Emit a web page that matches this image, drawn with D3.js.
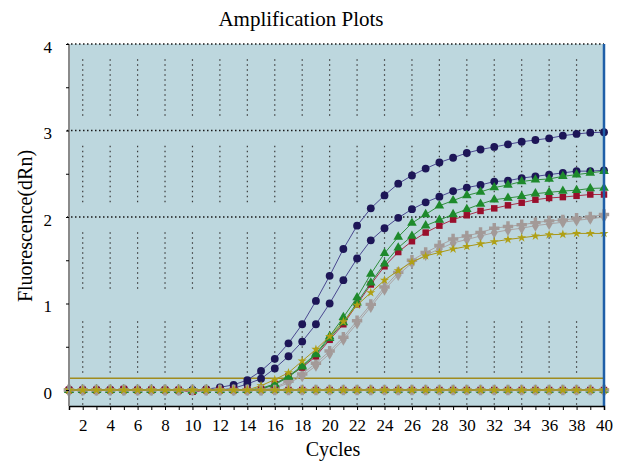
<!DOCTYPE html>
<html>
<head>
<meta charset="utf-8">
<script src="https://cdn.jsdelivr.net/npm/d3@7"></script>
<style>
  body { margin: 0; background: #fff; }
  svg text { font-family: "Liberation Serif", "DejaVu Serif", "Times New Roman", Times, serif !important; fill: #000; }
</style>
</head>
<body>
<div id="chart"></div>
<script>
// cycles 1..40
var cycles = d3.range(1, 41);

// amplification curves (dRn)
var navyHigh = [0, 0, 0, 0, 0.01, 0, 0, 0, -0.01, 0, 0.01, 0.03, 0.06, 0.115, 0.22, 0.36, 0.54, 0.76, 1.03, 1.32,
  1.63, 1.90, 2.10, 2.25, 2.385, 2.48, 2.56, 2.63, 2.685, 2.74, 2.78, 2.81, 2.84, 2.87, 2.89, 2.91, 2.94, 2.96, 2.975, 2.98];
var navyLow = [0, 0, 0, 0, 0, 0, 0, 0, 0, 0, 0, 0, 0.02, 0.07, 0.13, 0.25, 0.39, 0.56, 0.76, 1.00,
  1.27, 1.52, 1.73, 1.87, 1.99, 2.09, 2.17, 2.235, 2.30, 2.34, 2.37, 2.41, 2.42, 2.45, 2.47, 2.49, 2.51, 2.53, 2.53, 2.54];
var greenHigh = [0, 0, 0, 0, 0, 0, 0, 0, 0, 0, 0, 0, 0, 0, 0.02, 0.07, 0.16, 0.28, 0.42, 0.62,
  0.84, 1.07, 1.34, 1.58, 1.77, 1.93, 2.03, 2.13, 2.19, 2.25, 2.29, 2.34, 2.37, 2.41, 2.43, 2.44, 2.47, 2.49, 2.51, 2.53];
var greenLow = [0, 0, 0, 0, 0, 0, 0, 0, 0, 0, 0, 0, 0, 0, 0.01, 0.06, 0.15, 0.27, 0.41, 0.60,
  0.78, 1.01, 1.24, 1.46, 1.645, 1.78, 1.90, 1.965, 2.03, 2.09, 2.15, 2.20, 2.22, 2.24, 2.27, 2.285, 2.30, 2.31, 2.33, 2.335];
var redCurve = [0, 0, 0, 0, 0.01, 0, 0, 0, 0, -0.02, 0, 0, 0, 0, 0.01, 0.07, 0.16, 0.26, 0.39, 0.58,
  0.76, 0.99, 1.22, 1.43, 1.595, 1.72, 1.82, 1.90, 1.97, 2.02, 2.07, 2.10, 2.135, 2.165, 2.20, 2.22, 2.23, 2.245, 2.26, 2.26];
var grayHigh = [0, 0, 0, 0, 0, 0, 0, 0, 0, 0, 0, 0, 0, 0, 0, 0.03, 0.10, 0.185, 0.31, 0.45,
  0.61, 0.80, 0.99, 1.19, 1.36, 1.50, 1.59, 1.67, 1.745, 1.78, 1.82, 1.87, 1.89, 1.91, 1.935, 1.955, 1.965, 1.985, 2.00, 2.03];
var grayLow = [0, 0, 0, 0, 0, 0, 0, 0, 0, 0, 0, 0, 0, 0, 0, 0.02, 0.08, 0.16, 0.28, 0.42,
  0.58, 0.77, 0.96, 1.16, 1.33, 1.47, 1.56, 1.63, 1.70, 1.74, 1.78, 1.82, 1.85, 1.87, 1.90, 1.92, 1.94, 1.96, 1.98, 2.00];
var yellowCurve = [0, 0, 0, 0, 0, 0, 0, 0, 0, 0, 0, 0, 0, 0, 0.05, 0.12, 0.20, 0.335, 0.47, 0.62,
  0.79, 0.98, 1.125, 1.27, 1.38, 1.48, 1.55, 1.59, 1.63, 1.66, 1.69, 1.715, 1.74, 1.76, 1.78, 1.795, 1.80, 1.81, 1.81, 1.81];

// no-template controls, flat at zero
var ntcRed = [0, 0, 0, 0, 0.01, 0, 0, 0, 0, -0.02, 0, 0, 0, 0, 0, 0, 0, 0, 0, 0,
  0, 0, 0, 0, 0, 0, 0, 0, 0, 0, 0, 0, 0, 0, 0, 0, 0, 0, 0, 0];
var ntcGreen = [0, 0, 0, 0, 0, 0, 0, 0, 0, -0.01, 0, 0, 0, 0, 0, 0, 0, 0, 0, 0,
  0, 0, 0, 0, 0, 0, 0, 0, 0, 0, 0, 0, 0, 0, 0, 0, 0, 0, 0, 0];
var ntcGray = [0, 0, 0, 0, 0, 0, 0, 0, 0, 0, 0, 0, 0, 0, 0, 0, 0, 0, 0, 0,
  0, 0, 0, 0, 0, 0, 0, 0, 0, 0, 0, 0, 0, 0, 0, 0, 0, 0, 0, 0];
var ntcYellow = [0, 0, 0, 0, 0, 0, 0, 0, 0, 0, 0, 0, 0, 0, 0, 0, 0, 0, 0, 0,
  0, 0, 0, 0, 0, 0, 0, 0, 0, 0, 0, 0, 0, 0, 0, 0, 0, 0, 0, 0];

var threshold = 0.135;
var yTickValues = [0, 0.5, 1, 1.5, 2, 2.5, 3, 3.5, 4];
var xLabelTicks = [2, 4, 6, 8, 10, 12, 14, 16, 18, 20, 22, 24, 26, 28, 30, 32, 34, 36, 38, 40];
var gridValues = [2, 3, 4];

var serif = "'Liberation Serif', 'DejaVu Serif', 'Times New Roman', serif";

var svgWidth = 623;
var svgHeight = 461;

var svg = d3.select("#chart")
  .append("svg")
  .attr("width", svgWidth)
  .attr("height", svgHeight)
  .attr("font-family", serif);

var xScale = d3.scaleLinear().domain([1, 40]).range([69, 604]);
var yScale = d3.scaleLinear().domain([0, 4]).range([390, 44]);
var yBottom = yScale(-0.185);

// plot background
svg.append("rect")
  .attr("x", xScale(1))
  .attr("y", yScale(4))
  .attr("width", xScale(40) - xScale(1))
  .attr("height", yBottom - yScale(4))
  .attr("fill", "#bdd7de");

// vertical dotted grid (broken around the value lines)
var gapSegments = [[-0.17, -0.04], [0.2, 0.83], [1.17, 1.83], [2.17, 2.83], [3.17, 3.86]];
xLabelTicks.filter(d => d < 40).forEach(function(c) {
  gapSegments.forEach(function(s) {
    svg.append("line")
      .attr("x1", xScale(c)).attr("x2", xScale(c))
      .attr("y1", yScale(s[0])).attr("y2", yScale(s[1]))
      .attr("stroke", "#3a3a3a")
      .attr("stroke-width", 1.2)
      .attr("stroke-dasharray", "1.5,3.5");
  });
});

// horizontal dotted grid
svg.selectAll(".hgrid")
  .data(gridValues)
  .enter()
  .append("line")
  .attr("class", "hgrid")
  .attr("x1", xScale(1) - 2)
  .attr("x2", xScale(40))
  .attr("y1", d => yScale(d))
  .attr("y2", d => yScale(d))
  .attr("stroke", "#1a1a1a")
  .attr("stroke-width", 1.3)
  .attr("stroke-dasharray", "1.5,2.5");

// threshold
svg.append("line")
  .attr("x1", xScale(1)).attr("x2", xScale(40))
  .attr("y1", yScale(threshold)).attr("y2", yScale(threshold))
  .attr("stroke", "#a08c1e")
  .attr("stroke-width", 1.5);

var series = [
  { values: navyHigh, color: "#1d1657", line: "#4a4890", shape: d3.symbolCircle, size: 48 },
  { values: navyLow, color: "#1d1657", line: "#4a4890", shape: d3.symbolCircle, size: 48 },
  { values: grayHigh, color: "#a39a98", line: "#aaa2a2", shape: d3.symbolCross, size: 60 },
  { values: grayLow, color: "#a39a98", line: "#aaa2a2", shape: d3.symbolDiamond, size: 42 },
  { values: redCurve, color: "#990f2c", line: "#a8304a", shape: d3.symbolSquare, size: 42 },
  { values: greenLow, color: "#1e8a2c", line: "#2f8f3c", shape: d3.symbolTriangle, size: 40 },
  { values: greenHigh, color: "#1e8a2c", line: "#2f8f3c", shape: d3.symbolTriangle, size: 40 },
  { values: yellowCurve, color: "#b0a014", line: "#a8961a", shape: d3.symbolStar, size: 26 },
  { values: ntcRed, color: "#990f2c", line: "#a8304a", shape: d3.symbolSquare, size: 42 },
  { values: ntcGreen, color: "#1e8a2c", line: "#2f8f3c", shape: d3.symbolTriangle, size: 40 },
  { values: ntcGray, color: "#a39a98", line: "#aaa2a2", shape: d3.symbolCross, size: 60 },
  { values: ntcYellow, color: "#b0a014", line: "#a8961a", shape: d3.symbolStar, size: 30 }
];

var line = d3.line()
  .x((d, i) => xScale(cycles[i]))
  .y(d => yScale(d));

series.forEach(function(s) {
  svg.append("path")
    .datum(s.values)
    .attr("d", line)
    .attr("fill", "none")
    .attr("stroke", s.line)
    .attr("stroke-width", s.values === ntcYellow ? 1.5 : 1);

  svg.selectAll(null)
    .data(s.values)
    .enter()
    .append("path")
    .attr("d", d3.symbol().type(s.shape).size(s.size))
    .attr("transform", (d, i) => `translate(${xScale(cycles[i])},${yScale(d)})`)
    .attr("fill", s.color);
});

// right border
svg.append("line")
  .attr("x1", xScale(40)).attr("x2", xScale(40))
  .attr("y1", yScale(4)).attr("y2", yBottom)
  .attr("stroke", "#1f5fa8")
  .attr("stroke-width", 2.5);

// bottom axis
var bottomAxis = d3.axisBottom(xScale)
  .tickValues(cycles)
  .tickSize(4)
  .tickFormat(d => (xLabelTicks.indexOf(d) >= 0 ? d : ""));

var xAxisG = svg.append("g")
  .attr("transform", `translate(0, ${yBottom})`)
  .call(bottomAxis)
  .attr("font-family", serif)
  .attr("font-size", 17);
xAxisG.select(".domain").attr("stroke", "#000").attr("stroke-width", 1.5);
xAxisG.selectAll("text")
  .attr("y", 25)
  .attr("dy", null);

// left axis
var leftAxis = d3.axisLeft(yScale)
  .tickValues(yTickValues)
  .tickSize(3)
  .tickSizeOuter(0)
  .tickFormat(d => (d % 1 === 0 ? d : ""));

var yAxisG = svg.append("g")
  .attr("transform", `translate(${xScale(1)}, 0)`)
  .call(leftAxis)
  .attr("font-family", serif)
  .attr("font-size", 17);
yAxisG.select(".domain")
  .attr("d", `M0,${yScale(4)}V${yBottom}`)
  .attr("stroke", "#8a8a8a")
  .attr("stroke-width", 2);
yAxisG.selectAll("text")
  .attr("x", -17)
  .attr("y", 3);

// title and axis labels
svg.append("text")
  .attr("x", 301)
  .attr("y", 26)
  .attr("text-anchor", "middle")
  .attr("font-size", 21)
  .text("Amplification Plots");

svg.append("text")
  .attr("x", 333)
  .attr("y", 456)
  .attr("text-anchor", "middle")
  .attr("font-size", 20)
  .text("Cycles");

svg.append("text")
  .attr("transform", "translate(32, 226) rotate(-90)")
  .attr("text-anchor", "middle")
  .attr("font-size", 20)
  .text("Fluorescence(dRn)");
</script>
</body>
</html>
